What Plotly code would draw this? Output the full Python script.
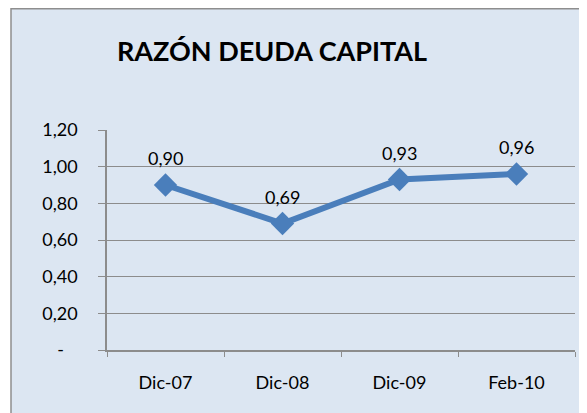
import plotly.graph_objects as go

categories = ["Dic-07", "Dic-08", "Dic-09", "Feb-10"]
values = [0.90, 0.69, 0.93, 0.96]
value_labels = ["0,90", "0,69", "0,93", "0,96"]
y_tickvals = [0, 0.2, 0.4, 0.6, 0.8, 1.0, 1.2]
y_ticktext = ["-\u00a0\u00a0\u00a0", "0,20", "0,40", "0,60", "0,80", "1,00", "1,20"]
title_text = "RAZÓN DEUDA CAPITAL"

# page body has 8px margin; figure pixel = screen pixel - 8
W, H = 579, 405
L, R, T, B = 99, 12, 122, 63
pw, ph = W - L - R, H - T - B

def px_x(p):
    return (p - L) / pw

def px_y(p):
    return (H - B - p) / ph

FONT = "Lato"
LINE_COL = "#4A7EBB"
GRID = "#8C8C8C"

fig = go.Figure()
fig.add_trace(go.Scatter(
    x=categories, y=values, mode="lines+markers",
    line=dict(color=LINE_COL, width=6),
    marker=dict(symbol="diamond", size=18, color=LINE_COL),
    cliponaxis=False, showlegend=False,
))

annotations = [dict(text="<b>" + title_text + "</b>", xref="paper", yref="paper",
                    x=px_x(264), y=px_y(42), xanchor="center", yanchor="middle",
                    showarrow=False, font=dict(family=FONT, size=27, color="#000000"))]
for c, v, t in zip(categories, values, value_labels):
    annotations.append(dict(x=c, y=v, text=t, showarrow=False, yshift=27,
                            xanchor="center", yanchor="middle",
                            font=dict(family=FONT, size=18, color="#000000")))

fig.update_layout(
    width=W, height=H,
    margin=dict(l=L, r=R, t=T, b=B),
    paper_bgcolor="white",
    plot_bgcolor="#E8EEF6",
    font=dict(family=FONT, size=18, color="#000000"),
    shapes=[dict(type="rect", xref="paper", yref="paper",
                 x0=px_x(3), x1=px_x(590), y0=px_y(420), y1=px_y(0.75),
                 line=dict(color="#8E8E8E", width=1.5),
                 fillcolor="#DCE6F2", layer="below")],
    annotations=annotations,
)

fig.update_xaxes(
    type="category", range=[-0.5, 3.5],
    showgrid=False, showline=True, linecolor=GRID, linewidth=1.5,
    ticks="outside", tickson="boundaries", ticklen=5, tickcolor=GRID,
    ticklabelstandoff=16, zeroline=False,
)
fig.update_yaxes(
    range=[0, 1.2], tickvals=y_tickvals, ticktext=y_ticktext,
    showgrid=True, gridcolor=GRID, gridwidth=1,
    showline=True, linecolor=GRID, linewidth=1.5,
    ticks="outside", ticklen=7, tickcolor=GRID,
    ticklabelstandoff=17, zeroline=False,
)

fig.write_html("out.html")
